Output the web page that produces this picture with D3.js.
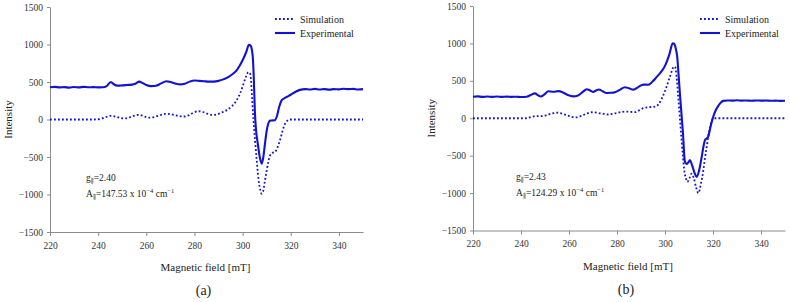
<!doctype html>
<html lang="en">
<head>
<meta charset="utf-8">
<title>EPR spectra (a) and (b)</title>
<style>
  body { margin: 0; background: #fff; }
  svg { display: block; font-family: "Liberation Serif", "DejaVu Serif", serif; }
  .axis path, .axis line { stroke: #8c8c8c; }
  .axis text { fill: #333; font-size: 9.5px; }
</style>
</head>
<body>
<svg id="chart"></svg>
<script src="https://cdn.jsdelivr.net/npm/d3@7"></script>
<script>
// tick labels
let xTicks = [220, 240, 260, 280, 300, 320, 340];
let yTicks = [-1500, -1000, -500, 0, 500, 1000, 1500];
let seriesNames = ["Simulation", "Experimental"];

// panel (a): [field mT, intensity]
let simA = [[220,0],[238,0],[241,8],[243,30],[245,48],[247,40],[249,22],[251,15],[253,28],[255,52],[256.7,62],[258.5,50],[260,32],[261.5,25],[263.5,35],[266,60],[268.4,75],[270.5,68],[273,50],[275.4,40],[277.5,55],[279.5,90],[281.6,110],[283.5,100],[285.5,75],[287.8,62],[289.5,70],[291.5,95],[293.4,125],[295.5,175],[297.5,255],[299,350],[300.3,470],[301.4,570],[302.4,630],[303,620],[303.5,520],[304,250],[304.5,0],[305.2,-300],[305.8,-520],[306.6,-800],[307.4,-950],[307.9,-990],[308.5,-960],[309.2,-830],[310,-680],[310.7,-560],[311.4,-480],[312.4,-445],[313.4,-435],[314.4,-380],[315.5,-280],[316.5,-160],[317.6,-57],[318.6,-15],[319.7,0],[350,0]];
let expA = [[220,430],[222,435],[224,428],[226,432],[228,425],[230,433],[232,428],[234,435],[236,430],[238,432],[240,428],[242,430],[243.5,445],[245.3,500],[246.5,470],[248,452],[250,455],[252,460],[254,465],[255.5,478],[257.1,505],[258.5,485],[260,460],[262,445],[264,450],[266,478],[268.4,510],[270,500],[272,480],[274,468],[276,478],[278,505],[280,520],[282,515],[284,510],[286,505],[288,505],[290,515],[292,535],[294,565],[296,610],[297.5,655],[299,730],[300.3,810],[301.5,900],[302.6,995],[303.3,985],[303.9,920],[304.3,800],[304.7,500],[305.1,100],[305.6,-150],[306.3,-320],[307,-480],[307.9,-590],[308.6,-500],[309.3,-320],[310,-150],[310.7,-50],[311.4,-15],[312.5,-12],[313.4,-10],[314.3,50],[315.2,170],[316.2,255],[317.2,280],[318.3,300],[320,330],[322,370],[323.8,395],[326,405],[328,400],[330,408],[332,400],[334,405],[336,398],[338,405],[340,402],[342,410],[344,405],[346,408],[348,400],[350,405]];

// panel (b)
let simB = [[220,0],[242,0],[244,15],[246,28],[248.6,28],[251,45],[253,65],[254.8,75],[257,62],[259.5,35],[262.5,12],[265,30],[267.5,65],[269.4,80],[272,72],[274.5,58],[276.4,50],[279,65],[281.5,82],[283.3,90],[285.5,85],[287.5,82],[289.2,105],[291,135],[293.5,148],[295.8,155],[297.4,190],[298.6,260],[299.7,340],[300.7,425],[302,550],[303.5,680],[304.2,690],[304.8,560],[305.5,290],[306.2,0],[306.9,-290],[307.5,-520],[308,-690],[308.7,-800],[309.3,-850],[310.2,-800],[311.1,-740],[312,-800],[313,-930],[313.9,-1000],[315,-870],[316,-690],[316.7,-520],[317.4,-380],[318.1,-230],[318.8,-115],[319.5,-35],[320.1,0],[350,0]];
let expB = [[220,287],[222,292],[224,285],[226,290],[228,286],[230,290],[232,285],[234,289],[236,286],[238,288],[240,283],[242.4,288],[244,310],[245.8,333],[247,310],[248.2,290],[249.8,320],[251.4,360],[253.5,355],[255.5,362],[257.5,345],[259.5,310],[261.8,292],[263.5,300],[265.5,345],[267.4,388],[268.8,370],[270.1,352],[271.2,370],[272.5,385],[274,360],[275.7,338],[277.5,340],[279.2,348],[281.2,380],[283.3,415],[285,400],[286.8,382],[289,420],[291,450],[293,448],[294.8,490],[296.5,550],[298.3,615],[300,700],[301.8,850],[303.2,1000],[303.8,995],[304.5,930],[305.1,820],[305.7,560],[306.3,290],[307.4,-160],[308.3,-580],[309,-612],[309.7,-590],[310.4,-560],[311.2,-620],[312.3,-730],[313.2,-785],[314.2,-700],[315.3,-515],[316,-380],[316.7,-290],[317.4,-270],[318,-245],[319,-110],[320.1,20],[321.2,110],[322.2,165],[323.3,210],[324.3,232],[326,238],[328,235],[330,240],[332,236],[334,238],[336,234],[338,238],[340,235],[342,237],[344,233],[346,236],[348,232],[350,234]];

let width = 790,
    height = 302;

let svg = d3.select("#chart")
    .attr("width", width)
    .attr("height", height);

let blue = "#1212d0";
let serif = "'Liberation Serif', 'DejaVu Serif', serif";

function drawPanel(p) {
  let x = d3.scaleLinear().domain([220, 350]).range([p.x0, p.x1]);
  let y = d3.scaleLinear().domain([-1500, 1500]).range([p.yBot, p.yTop]);
  let g = svg.append("g");

  g.append("g")
    .attr("class", "axis")
    .attr("transform", "translate(0," + p.yBot + ")")
    .call(d3.axisBottom(x).tickValues(xTicks).tickSize(4).tickPadding(6).tickSizeOuter(0))
    .attr("font-family", serif);

  g.append("g")
    .attr("class", "axis")
    .attr("transform", "translate(" + p.x0 + ",0)")
    .call(d3.axisLeft(y).tickValues(yTicks).tickSize(3).tickPadding(4).tickSizeOuter(0)
      .tickFormat(d => d < 0 ? "\u2212" + Math.abs(d) : d))
    .attr("font-family", serif);

  let line = d3.line()
    .x(d => x(d[0]))
    .y(d => y(d[1]))
    .curve(d3.curveMonotoneX);

  g.append("path")
    .datum(p.sim)
    .attr("d", line)
    .attr("fill", "none")
    .attr("stroke", blue)
    .attr("stroke-width", 1.8)
    .attr("stroke-dasharray", "1.8,2.2");

  g.append("path")
    .datum(p.exp)
    .attr("d", line)
    .attr("fill", "none")
    .attr("stroke", blue)
    .attr("stroke-width", 2.1)
    .attr("stroke-linejoin", "round");

  // legend
  seriesNames.forEach((name, i) => {
    let ly = 19 + i * 14;
    g.append("line")
      .attr("x1", p.legX).attr("x2", p.legX + 20)
      .attr("y1", ly).attr("y2", ly)
      .attr("stroke", blue)
      .attr("stroke-width", i == 0 ? 1.8 : 2.1)
      .attr("stroke-dasharray", i == 0 ? "1.8,2.2" : null);
    g.append("text")
      .attr("x", p.legX + 25).attr("y", ly + 3.5)
      .attr("font-size", "10px")
      .attr("fill", "#222")
      .text(name);
  });

  // axis titles
  g.append("text")
    .attr("x", (p.x0 + p.x1) / 2 - 1)
    .attr("y", p.yBot + 39)
    .attr("text-anchor", "middle")
    .attr("font-size", "11px")
    .attr("fill", "#222")
    .text("Magnetic field [mT]");

  g.append("text")
    .attr("transform", "translate(" + (p.x0 - 38) + "," + (p.yTop + p.yBot) / 2 + ") rotate(-90)")
    .attr("text-anchor", "middle")
    .attr("font-size", "11px")
    .attr("fill", "#222")
    .text("Intensity");

  g.append("text")
    .attr("x", (p.x0 + p.x1) / 2 - 3)
    .attr("y", p.yBot + 63)
    .attr("text-anchor", "middle")
    .attr("font-size", "14px")
    .attr("fill", "#222")
    .text(p.label);

  // parameters
  let t1 = g.append("text")
    .attr("x", p.annX).attr("y", p.annY)
    .attr("font-size", "9.5px").attr("fill", "#222");
  t1.append("tspan").text("g");
  t1.append("tspan").attr("font-size", "6.5px").attr("dy", 2).text("\u2225");
  t1.append("tspan").attr("dy", -2).text("=" + p.g);

  let t2 = g.append("text")
    .attr("x", p.annX).attr("y", p.annY + 16)
    .attr("font-size", "9.5px").attr("fill", "#222");
  t2.append("tspan").text("A");
  t2.append("tspan").attr("font-size", "6.5px").attr("dy", 2).text("\u2225");
  t2.append("tspan").attr("dy", -2).text("=" + p.A + " x 10");
  t2.append("tspan").attr("font-size", "6.5px").attr("dy", -4).text("\u22124");
  t2.append("tspan").attr("dy", 4).text(" cm");
  t2.append("tspan").attr("font-size", "6.5px").attr("dy", -4).text("\u22121");
}

drawPanel({ x0: 50, x1: 363, yTop: 7, yBot: 232, sim: simA, exp: expA,
  legX: 275, annX: 86, annY: 181, g: "2.40", A: "147.53", label: "(a)" });
drawPanel({ x0: 473, x1: 785, yTop: 6, yBot: 230.5, sim: simB, exp: expB,
  legX: 700, annX: 516, annY: 180, g: "2.43", A: "124.29", label: "(b)" });
</script>
</body>
</html>
